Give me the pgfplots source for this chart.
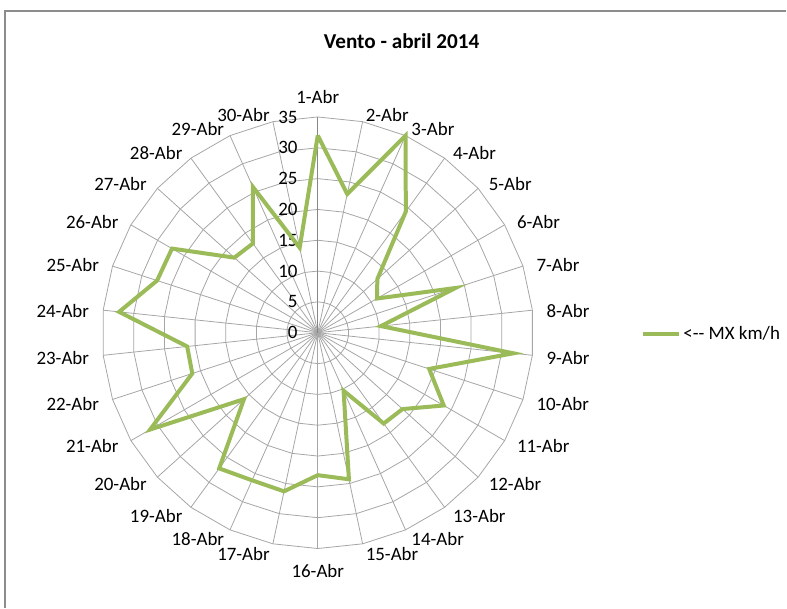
\documentclass[border=0pt]{standalone}
\usepackage{fontspec}
\setmainfont{Carlito}
\usepackage{pgfplots}
\pgfplotsset{compat=1.18}
\usepackage{pgfplotstable}
\definecolor{gridgray}{HTML}{A6A6A6}
\definecolor{axisgray}{HTML}{868686}
\definecolor{mxgreen}{HTML}{9BBB59}
\definecolor{framegray}{HTML}{8C8C8C}
\newcommand{\labfont}{\fontsize{14.2}{17}\selectfont}

% day, max wind (km/h); day 31 repeats day 1 to close the polygon
\pgfplotstableread{
d v
1 32
2 23
3 35
4 24.3
5 13
6 11.1
7 23.5
8 10.3
9 31.9
10 19
11 23.6
12 18.5
13 18.2
14 10.3
15 24.3
16 23.1
17 26.3
18 26.2
19 27.2
20 16.1
21 31.4
22 21.4
23 21.3
24 32.4
25 27.4
26 27.3
27 18.2
28 17.9
29 25.9
30 14.1
31 32
}\wind

\begin{document}
\begin{tikzpicture}
\begin{axis}[
  x=4.6275pt, y=4.6275pt,
  xmin=-51.54, xmax=76.01, ymin=-44.57, ymax=53.97,
  hide axis, clip=false,
  legend style={at={(axis cs:52.35,-0.16)}, anchor=west, draw=none, fill=none,
    inner sep=0pt, font=\labfont, nodes={inner sep=2pt}},
  legend image code/.code={\draw[#1] (0pt,0pt) -- (27pt,0pt);},
]
\path (axis cs:-51.54,-44.57) rectangle (axis cs:76.01,53.97);
% frame
\draw[framegray, line width=0.9pt] (axis cs:-50.73,-44.57) -- (axis cs:-50.73,52.19) -- (axis cs:76.01,52.19);
% spokes
\pgfplotsinvokeforeach{1,...,29}{
  \draw[gridgray, line width=0.6pt] (axis cs:0,0) -- (axis cs:{35*sin(12*#1)},{35*cos(12*#1)});
}
% rings
\pgfplotsinvokeforeach{5,10,...,35}{
  \addplot[gridgray, line width=0.6pt, forget plot]
    table[x expr={#1*sin(12*(\thisrow{d}-1))}, y expr={#1*cos(12*(\thisrow{d}-1))}] {\wind};
}
\draw[axisgray, line width=0.7pt] (axis cs:0,0) -- (axis cs:0,35);
% value labels
\pgfplotsinvokeforeach{0,5,...,35}{
  \node[anchor=east, inner sep=0pt, font=\labfont] at (axis cs:-3.24,#1) {#1};
}
% data
\addplot[mxgreen, line width=3pt]
  table[x expr={\thisrow{v}*sin(12*(\thisrow{d}-1))}, y expr={\thisrow{v}*cos(12*(\thisrow{d}-1))}] {\wind};
\addlegendentry{<{-}{-} MX km/h}
\node[font=\bfseries\fontsize{15.9}{19}\selectfont] at (axis cs:13.6,47.3) {Vento - abril 2014};
\coordinate (O) at (axis cs:0,0);
\end{axis}
% category labels
\foreach \k in {1,...,30}{
  \pgfmathsetmacro\sv{sin(12*(\k-1))}
  \pgfmathsetmacro\cv{cos(12*(\k-1))}
  \pgfmathsetmacro\px{172.46*\sv}
  \pgfmathsetmacro\py{168.36*\cv-1.1}
  \def\anc{west}
  \ifnum\k>16 \def\anc{east}\fi
  \ifnum\k=1 \def\anc{center}\def\px{0}\def\py{177.2}\fi
  \ifnum\k=16 \def\anc{center}\def\px{0}\def\py{-179}\fi
  \node[anchor=\anc, inner sep=0pt, font=\labfont] at ([shift={(\px pt,\py pt)}]O) {\k-Abr};
}
\end{tikzpicture}
\end{document}
